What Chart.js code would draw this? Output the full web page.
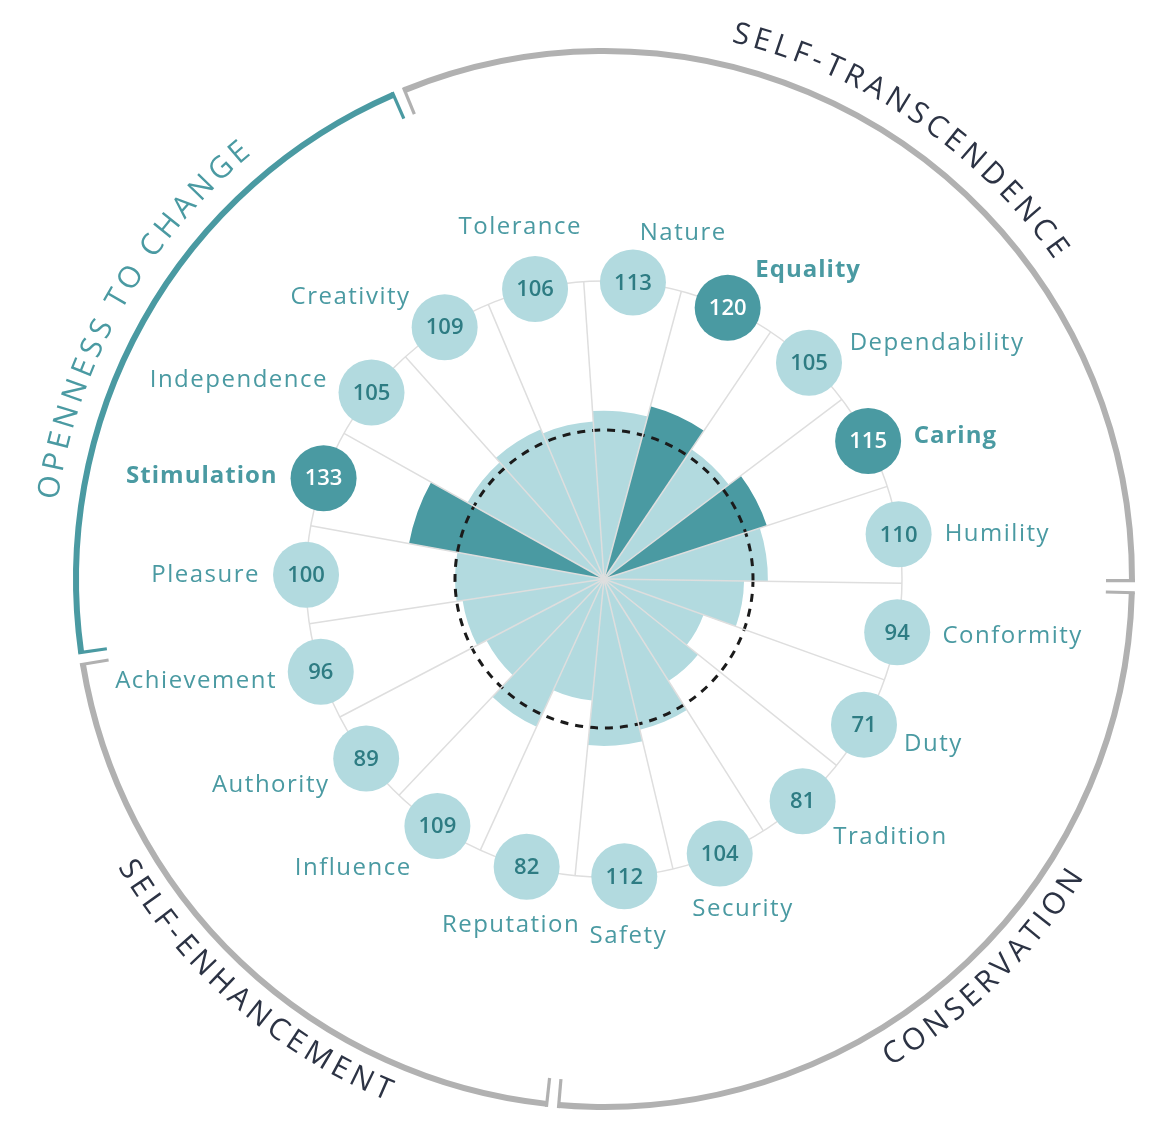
<!DOCTYPE html>
<html>
<head>
<meta charset="utf-8">
<style>
html,body{margin:0;padding:0;background:#ffffff;overflow:hidden}
canvas{display:block}
</style>
<script src="https://cdn.jsdelivr.net/npm/chart.js@4.4.1/dist/chart.umd.min.js"></script>
</head>
<body>
<canvas id="c" width="1168" height="1142"></canvas>
<script>
// ---------------- data ----------------
const categories = ['Tolerance','Nature','Equality','Dependability','Caring','Humility',
  'Conformity','Duty','Tradition','Security','Safety',
  'Reputation','Influence','Authority','Achievement',
  'Pleasure','Stimulation','Independence','Creativity'];
const scores = [106,113,120,105,115,110,94,71,81,104,112,82,109,89,96,100,133,105,109];
const highlighted = ['Equality','Caring','Stimulation'];
const groupNames = ['SELF-TRANSCENDENCE','CONSERVATION','SELF-ENHANCEMENT','OPENNESS TO CHANGE'];
const groupSizes = [6,5,4,4];
const highlightedGroup = 'OPENNESS TO CHANGE';
const referenceValue = 100;
const scaleMax = 200;

// ---------------- styles ----------------
const LIGHT = '#b2dadf';
const DARK = '#4a9aa2';
const NUM_TEXT = '#2e7c83';
const LABEL = '#4a9aa2';
const GRID = '#dedede';
const RING = '#b1b1b1';
const GROUP_TEXT = '#2c3344';
const FONT = '"Open Sans", "Noto Sans", Arial, sans-serif';

function normDeg(d){ d = d % 360; return d < 0 ? d + 360 : d; }

function drawArcText(ctx, text, cx, cy, r, centerDeg, top, spacing) {
  const chars = [...text];
  const widths = chars.map(ch => ctx.measureText(ch).width);
  const total = widths.reduce((a,b)=>a+b,0) + spacing*(chars.length-1);
  const span = total / r;
  const c = centerDeg*Math.PI/180;
  let a = top ? c - span/2 : c + span/2;
  ctx.textAlign = 'center';
  ctx.textBaseline = 'alphabetic';
  chars.forEach((ch,i) => {
    const w = widths[i];
    const half = (w/2)/r;
    const ang = top ? a + half : a - half;
    const x = cx + Math.sin(ang)*r, y = cy - Math.cos(ang)*r;
    ctx.save();
    ctx.translate(x,y);
    ctx.rotate(top ? ang : ang - Math.PI);
    ctx.fillText(ch, 0, 0);
    ctx.restore();
    a = top ? a + (w+spacing)/r : a - (w+spacing)/r;
  });
}

const overlay = {
  id: 'overlay',
  afterDatasetsDraw(chart) {
    const s = chart.scales.r, ctx = chart.ctx;
    ctx.save();
    ctx.setLineDash([8,7]);
    ctx.lineWidth = 3;
    ctx.strokeStyle = '#1b1b1b';
    ctx.beginPath();
    ctx.arc(s.xCenter, s.yCenter, s.getDistanceFromCenterForValue(referenceValue), 0, Math.PI*2);
    ctx.stroke();
    ctx.restore();
  },
  afterDraw(chart) {
    const s = chart.scales.r, ctx = chart.ctx, meta = chart.getDatasetMeta(0);
    const cx = s.xCenter, cy = s.yCenter;
    const rc = s.getDistanceFromCenterForValue(scaleMax);
    const pt = (r, ang) => ({x: cx + Math.cos(ang)*r, y: cy + Math.sin(ang)*r});
    const bubbleR = 33;

    ctx.save();
    // bubbles + labels
    meta.data.forEach((arc, i) => {
      const mid = (arc.startAngle + arc.endAngle)/2;
      const c = pt(rc, mid);
      const deg = normDeg((mid + Math.PI/2)*180/Math.PI);
      const isHi = highlighted.includes(categories[i]);
      ctx.beginPath();
      ctx.arc(c.x, c.y, bubbleR, 0, Math.PI*2);
      ctx.fillStyle = isHi ? DARK : LIGHT;
      ctx.fill();
      ctx.fillStyle = isHi ? '#ffffff' : NUM_TEXT;
      ctx.font = '600 22px ' + FONT;
      ctx.letterSpacing = '0px';
      ctx.textAlign = 'center';
      ctx.textBaseline = 'middle';
      ctx.fillText(String(scores[i]), c.x, c.y + 1);

      const dx = Math.cos(mid), dy = Math.sin(mid);
      let align, lx, ly;
      if ((deg > 150 && deg < 210) || deg > 335) {
        align = 'center';
        const d = deg > 335 ? 64 : 60;
        lx = c.x + dx*d; ly = c.y + dy*d;
      } else {
        align = deg < 180 ? 'left' : 'right';
        const ax = dy < 0 ? 46 + 25*dy*dy : 46;
        lx = c.x + dx*ax;
        ly = dy < 0 ? c.y + dy*dy*dy*50 : c.y + Math.pow(dy,1.5)*56;
      }
      ctx.font = (isHi ? '700 ' : '400 ') + '24px ' + FONT;
      ctx.letterSpacing = isHi ? '1px' : '1.5px';
      ctx.fillStyle = LABEL;
      ctx.textAlign = align;
      ctx.textBaseline = 'middle';
      ctx.fillText(categories[i], lx, ly);
    });

    // outer ring segments
    const R = 528, tick = 26, gap = 6 / R;
    let idx = 0;
    groupNames.forEach((name, g) => {
      const first = meta.data[idx], last = meta.data[idx + groupSizes[g] - 1];
      idx += groupSizes[g];
      const a1 = first.startAngle + gap, a2 = last.endAngle - gap;
      const col = name === highlightedGroup ? DARK : RING;
      ctx.strokeStyle = col;
      ctx.setLineDash([]);
      ctx.lineCap = 'butt';
      ctx.lineWidth = 6;
      ctx.beginPath();
      ctx.arc(cx, cy, R, a1, a2);
      ctx.stroke();
      ctx.lineWidth = 3.2;
      [a1, a2].forEach(a => {
        const p1 = pt(R + 3, a), p2 = pt(R - tick, a);
        ctx.beginPath(); ctx.moveTo(p1.x, p1.y); ctx.lineTo(p2.x, p2.y); ctx.stroke();
      });
      // curved title
      const midDeg = normDeg(((first.startAngle + last.endAngle)/2 + Math.PI/2)*180/Math.PI);
      const top = Math.cos(midDeg*Math.PI/180) >= 0;
      ctx.fillStyle = name === highlightedGroup ? DARK : GROUP_TEXT;
      ctx.font = '400 30px ' + FONT;
      ctx.letterSpacing = '0px';
      drawArcText(ctx, name, cx, cy, top ? 552 : 565, top ? midDeg : midDeg - 2.5, top, 4.5);
    });
    ctx.restore();
  }
};

const chart = new Chart(document.getElementById('c'), {
  type: 'polarArea',
  data: {
    labels: categories,
    datasets: [{
      data: scores,
      backgroundColor: categories.map(c => highlighted.includes(c) ? DARK : LIGHT),
      borderWidth: 0
    }]
  },
  options: {
    responsive: false,
    animation: false,
    devicePixelRatio: 1,
    layout: { padding: { left: 306, top: 281, right: 266, bottom: 265 } },
    plugins: { legend: { display: false }, tooltip: { enabled: false } },
    scales: {
      r: {
        min: 0,
        max: scaleMax,
        startAngle: -22.85,
        ticks: { display: false, stepSize: scaleMax },
        grid: { circular: true, color: GRID, lineWidth: 1.5, z: 1 },
        angleLines: { display: true, color: GRID, lineWidth: 1.5 },
        pointLabels: { display: false }
      }
    }
  },
  plugins: [overlay]
});
if (document.fonts && document.fonts.ready) {
  document.fonts.ready.then(() => chart.draw());
}
</script>
</body>
</html>
